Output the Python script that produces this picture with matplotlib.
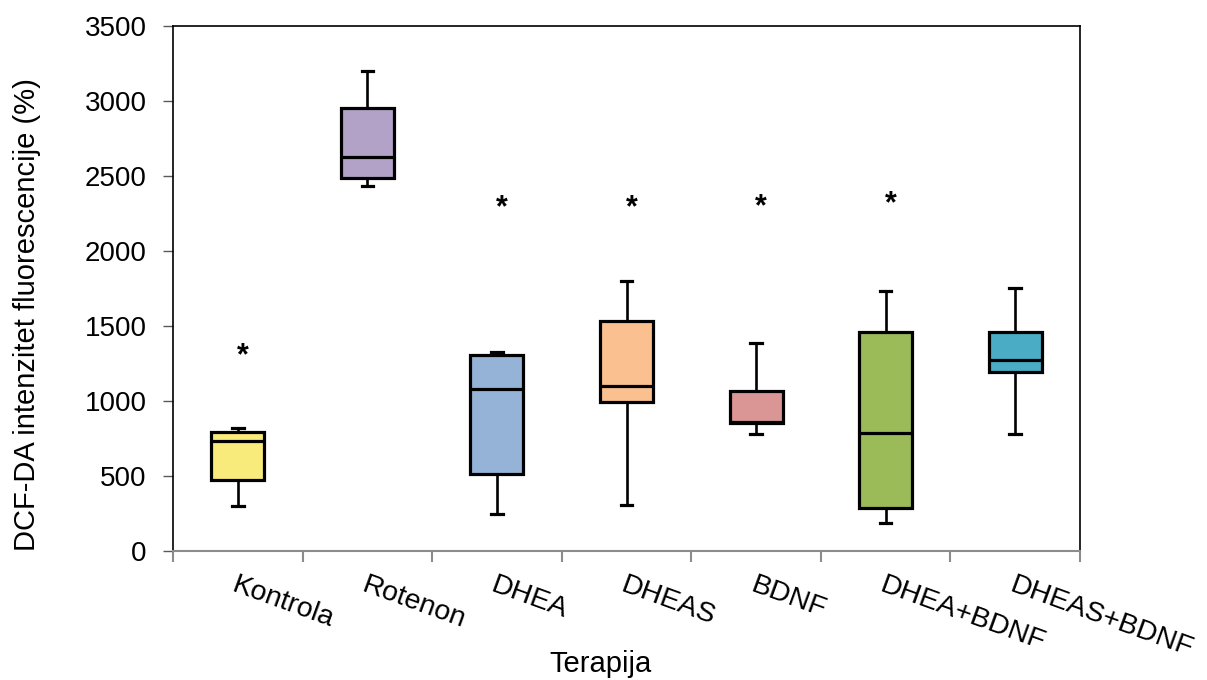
import matplotlib
matplotlib.use("Agg")
import matplotlib.pyplot as plt

plt.rcParams['font.family'] = ['Liberation Sans', 'DejaVu Sans']

categories = ["Kontrola", "Rotenon", "DHEA", "DHEAS", "BDNF", "DHEA+BDNF", "DHEAS+BDNF"]
whisker_low = [300, 2436, 249, 305, 778, 189, 780]
q1 = [475, 2489, 516, 991, 852, 287, 1191]
median = [731, 2624, 1080, 1100, 862, 789, 1271]
q3 = [791, 2951, 1307, 1533, 1068, 1462, 1462]
whisker_high = [818, 3200, 1327, 1800, 1387, 1731, 1755]
colors = ["#F9EB7B", "#B2A2C7", "#95B3D7", "#FAC090", "#D99694", "#9BBB59", "#4BACC6"]
star_cats = ["Kontrola", "DHEA", "DHEAS", "BDNF", "DHEA+BDNF"]
star_values = [1330, 2320, 2320, 2329, 2345]
y_ticks = [0, 500, 1000, 1500, 2000, 2500, 3000, 3500]

fig = plt.figure(figsize=(12.07, 6.80), dpi=100)
ax = fig.add_axes([173/1207, 1-551/680, (1080-173)/1207, (551-26)/680])

positions = list(range(1, len(categories) + 1))
stats = []
for i, c in enumerate(categories):
    stats.append(dict(label=c, whislo=whisker_low[i], q1=q1[i], med=median[i],
                      q3=q3[i], whishi=whisker_high[i], fliers=[]))

bp = ax.bxp(stats, positions=positions, widths=0.41, capwidths=0.09,
            patch_artist=True, showfliers=False,
            boxprops=dict(linewidth=2.3, edgecolor='black'),
            medianprops=dict(color='black', linewidth=2.3),
            whiskerprops=dict(color='black', linewidth=1.9),
            capprops=dict(color='black', linewidth=2.3))
for patch, col in zip(bp['boxes'], colors):
    patch.set_facecolor(col)

# asterisks (glyph centre placed at the value)
for c, v in zip(star_cats, star_values):
    ax.annotate("*", xy=(positions[categories.index(c)] + 0.04, v),
                xytext=(0, -9.5), textcoords='offset points',
                ha='center', va='baseline', fontsize=22, fontweight='bold',
                color='black')

ax.set_xlim(0.5, len(categories) + 0.5)
ax.set_ylim(0, 3500)
ax.set_yticks(y_ticks)
ax.set_yticklabels([str(v) for v in y_ticks], fontsize=20)
ax.tick_params(axis='y', direction='out', length=7, width=1, color='#595959', pad=12)

# x: boundary ticks, labels at centers
ax.set_xticks([p + 0.5 for p in [0] + positions])
ax.set_xticklabels([])
ax.tick_params(axis='x', which='major', direction='out', length=8, width=1.5, color='#8C8C8C')
ax.set_xticks(positions, categories, minor=True)
ax.tick_params(axis='x', which='minor', length=0, pad=15, labelsize=20.5)
for lab in ax.get_xticklabels(minor=True):
    lab.set_rotation(-20)
    lab.set_ha('left')
    lab.set_va('top')
    lab.set_rotation_mode('anchor')

for s in ['left', 'top', 'right']:
    ax.spines[s].set_color('black')
    ax.spines[s].set_linewidth(1.2)
ax.spines['bottom'].set_color('#8C8C8C')
ax.spines['bottom'].set_linewidth(1.5)

fig.text(27/1207, 1-315/680, "DCF-DA intenzitet fluorescencije (%)", rotation=90,
         ha='center', va='center', fontsize=21)
fig.text(600/1207, 1-664/680, "Terapija", ha='center', va='center', fontsize=21)

fig.savefig("out.png", dpi=100)
